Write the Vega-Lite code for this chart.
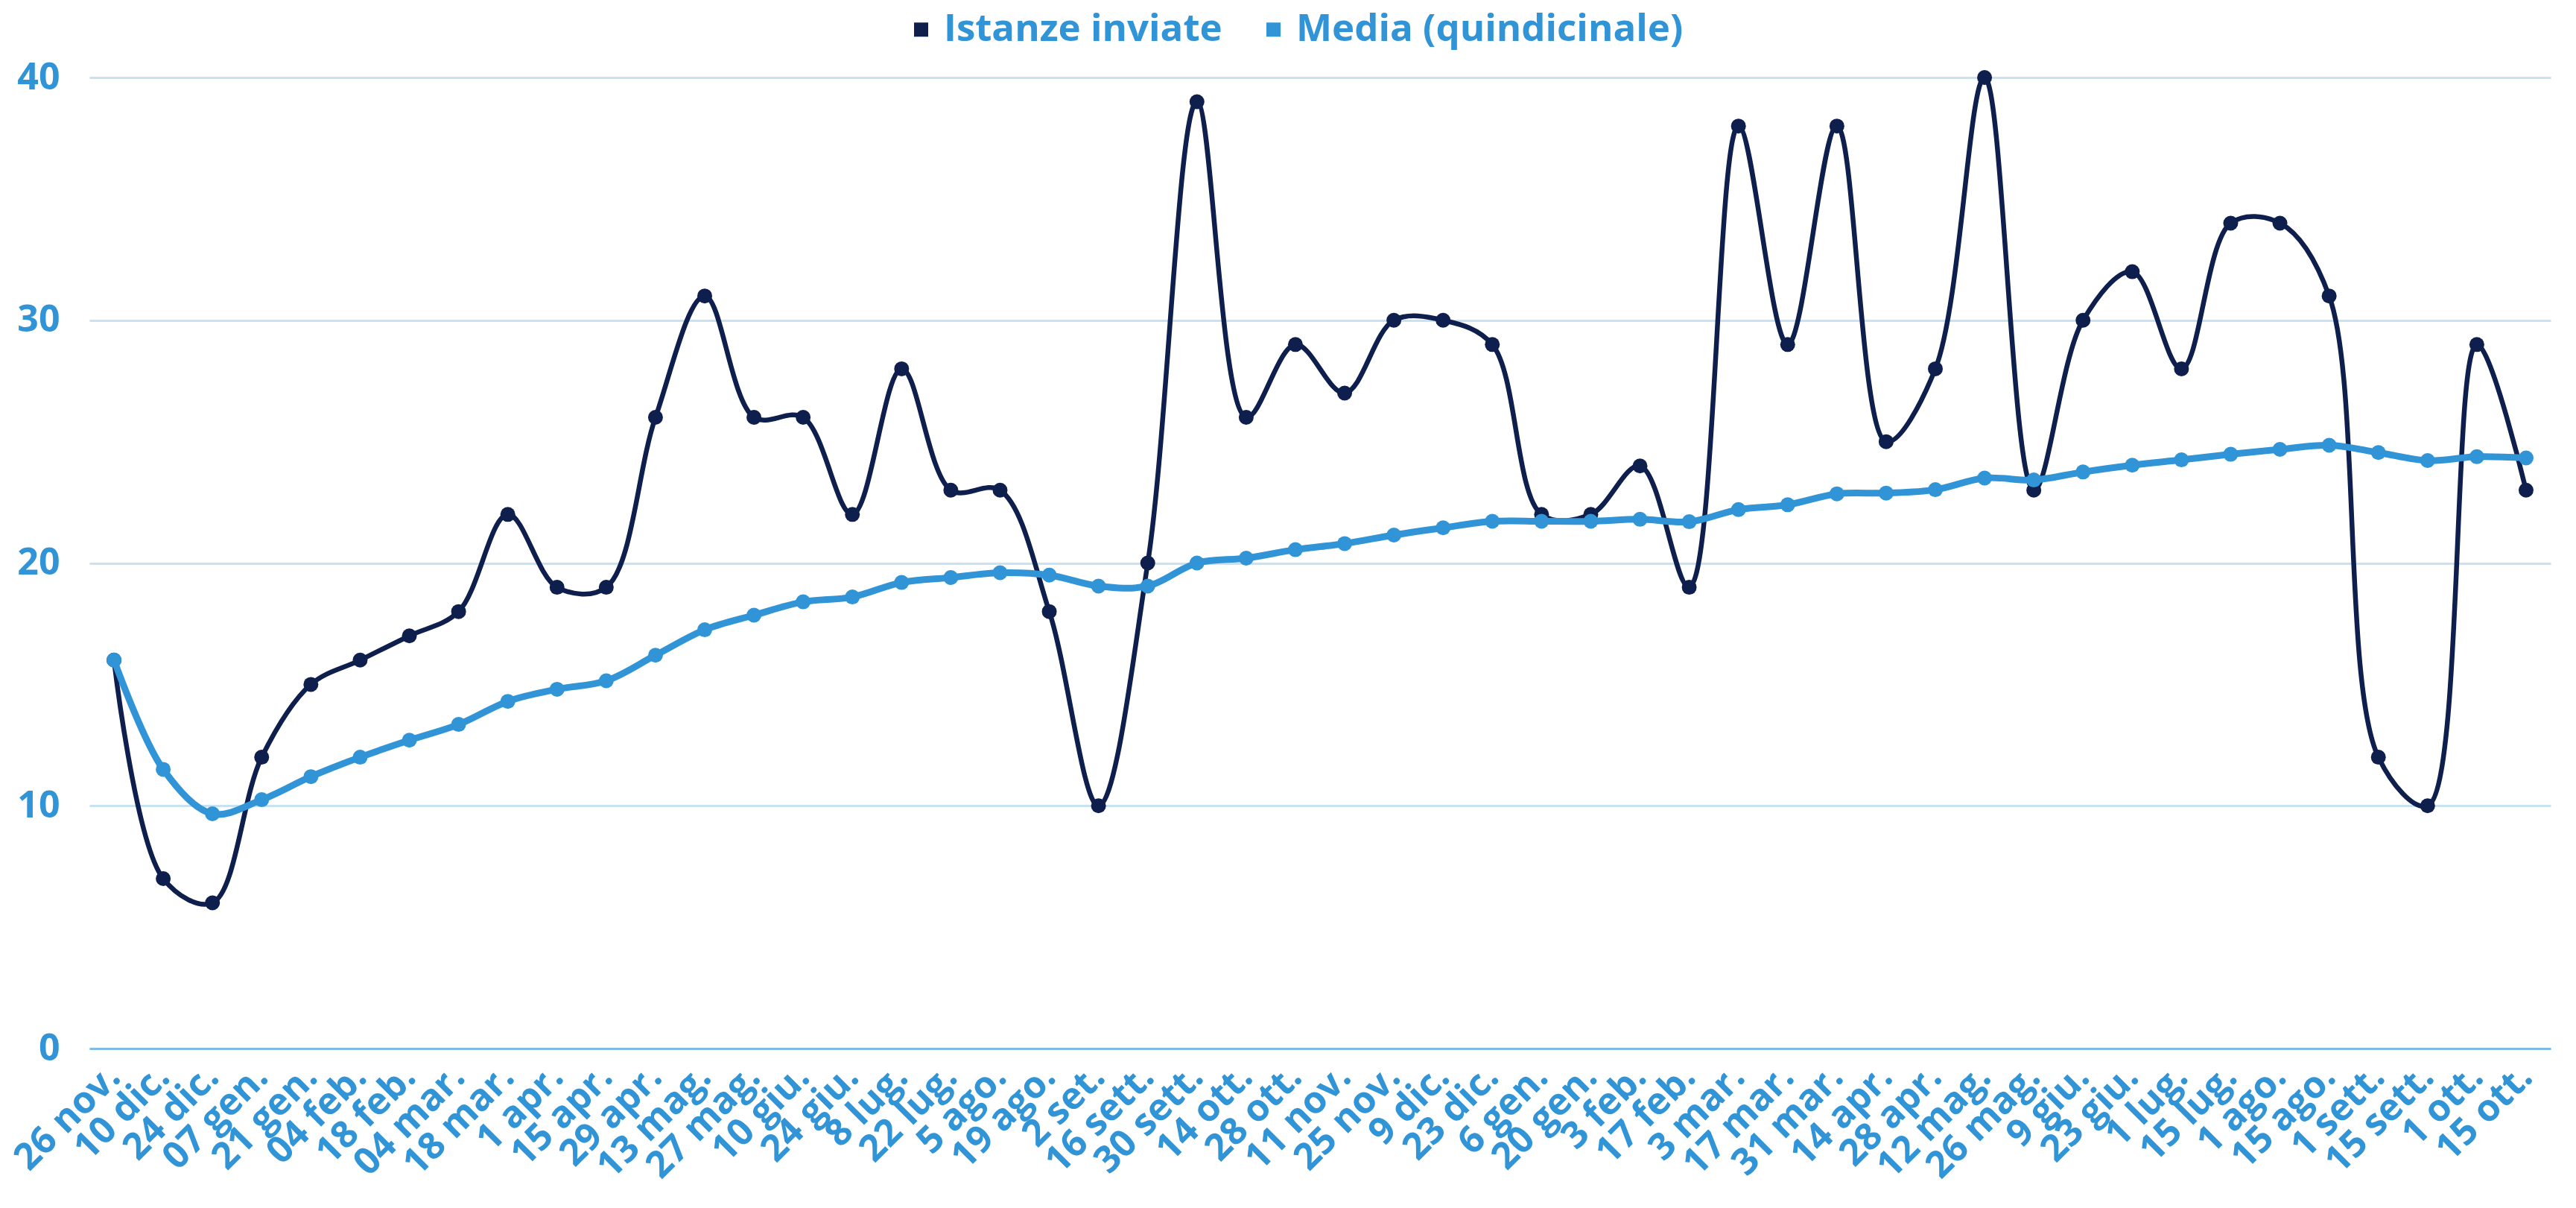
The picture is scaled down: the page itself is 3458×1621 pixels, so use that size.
{
  "$schema": "https://vega.github.io/schema/vega-lite/v6.json",
  "autosize": {"type": "none"},
  "padding": {"left": 120, "top": 104, "right": 34, "bottom": 214},
  "width": 3304,
  "height": 1303,
  "background": "#ffffff",
  "config": {
    "view": {"stroke": null},
    "font": "Open Sans",
    "axis": {"labelFont": "Open Sans", "labelFontWeight": "bold", "labelFontSize": 50, "labelColor": "#3094d7", "ticks": false, "title": null, "labelLimit": 0},
    "legend": {"labelFont": "Open Sans", "labelFontWeight": "bold", "labelFontSize": 51, "labelColor": "#3094d7", "labelLimit": 0}
  },
  "data": {
    "values": [
      {"d": "26 nov.", "Istanze inviate": 16, "Media (quindicinale)": 16},
      {"d": "10 dic.", "Istanze inviate": 7, "Media (quindicinale)": 11.5},
      {"d": "24 dic.", "Istanze inviate": 6, "Media (quindicinale)": 9.67},
      {"d": "07 gen.", "Istanze inviate": 12, "Media (quindicinale)": 10.25},
      {"d": "21 gen.", "Istanze inviate": 15, "Media (quindicinale)": 11.2},
      {"d": "04 feb.", "Istanze inviate": 16, "Media (quindicinale)": 12.0},
      {"d": "18 feb.", "Istanze inviate": 17, "Media (quindicinale)": 12.7},
      {"d": "04 mar.", "Istanze inviate": 18, "Media (quindicinale)": 13.35},
      {"d": "18 mar.", "Istanze inviate": 22, "Media (quindicinale)": 14.3},
      {"d": "1 apr.", "Istanze inviate": 19, "Media (quindicinale)": 14.8},
      {"d": "15 apr.", "Istanze inviate": 19, "Media (quindicinale)": 15.15},
      {"d": "29 apr.", "Istanze inviate": 26, "Media (quindicinale)": 16.2},
      {"d": "13 mag.", "Istanze inviate": 31, "Media (quindicinale)": 17.25},
      {"d": "27 mag.", "Istanze inviate": 26, "Media (quindicinale)": 17.85},
      {"d": "10 giu.", "Istanze inviate": 26, "Media (quindicinale)": 18.4},
      {"d": "24 giu.", "Istanze inviate": 22, "Media (quindicinale)": 18.6},
      {"d": "8 lug.", "Istanze inviate": 28, "Media (quindicinale)": 19.2},
      {"d": "22 lug.", "Istanze inviate": 23, "Media (quindicinale)": 19.4},
      {"d": "5 ago.", "Istanze inviate": 23, "Media (quindicinale)": 19.6},
      {"d": "19 ago.", "Istanze inviate": 18, "Media (quindicinale)": 19.5},
      {"d": "2 set.", "Istanze inviate": 10, "Media (quindicinale)": 19.05},
      {"d": "16 sett.", "Istanze inviate": 20, "Media (quindicinale)": 19.05},
      {"d": "30 sett.", "Istanze inviate": 39, "Media (quindicinale)": 20.0},
      {"d": "14 ott.", "Istanze inviate": 26, "Media (quindicinale)": 20.2},
      {"d": "28 ott.", "Istanze inviate": 29, "Media (quindicinale)": 20.55},
      {"d": "11 nov.", "Istanze inviate": 27, "Media (quindicinale)": 20.8},
      {"d": "25 nov.", "Istanze inviate": 30, "Media (quindicinale)": 21.15},
      {"d": "9 dic.", "Istanze inviate": 30, "Media (quindicinale)": 21.45},
      {"d": "23 dic.", "Istanze inviate": 29, "Media (quindicinale)": 21.72},
      {"d": "6 gen.", "Istanze inviate": 22, "Media (quindicinale)": 21.72},
      {"d": "20 gen.", "Istanze inviate": 22, "Media (quindicinale)": 21.72},
      {"d": "3 feb.", "Istanze inviate": 24, "Media (quindicinale)": 21.8},
      {"d": "17 feb.", "Istanze inviate": 19, "Media (quindicinale)": 21.7},
      {"d": "3 mar.", "Istanze inviate": 38, "Media (quindicinale)": 22.2},
      {"d": "17 mar.", "Istanze inviate": 29, "Media (quindicinale)": 22.4},
      {"d": "31 mar.", "Istanze inviate": 38, "Media (quindicinale)": 22.85},
      {"d": "14 apr.", "Istanze inviate": 25, "Media (quindicinale)": 22.88},
      {"d": "28 apr.", "Istanze inviate": 28, "Media (quindicinale)": 23.02},
      {"d": "12 mag.", "Istanze inviate": 40, "Media (quindicinale)": 23.5},
      {"d": "26 mag.", "Istanze inviate": 23, "Media (quindicinale)": 23.42},
      {"d": "9 giu.", "Istanze inviate": 30, "Media (quindicinale)": 23.75},
      {"d": "23 giu.", "Istanze inviate": 32, "Media (quindicinale)": 24.03},
      {"d": "1 lug.", "Istanze inviate": 28, "Media (quindicinale)": 24.25},
      {"d": "15 lug.", "Istanze inviate": 34, "Media (quindicinale)": 24.48},
      {"d": "1 ago.", "Istanze inviate": 34, "Media (quindicinale)": 24.68},
      {"d": "15 ago.", "Istanze inviate": 31, "Media (quindicinale)": 24.85},
      {"d": "1 sett.", "Istanze inviate": 12, "Media (quindicinale)": 24.55},
      {"d": "15 sett.", "Istanze inviate": 10, "Media (quindicinale)": 24.22},
      {"d": "1 ott.", "Istanze inviate": 29, "Media (quindicinale)": 24.38},
      {"d": "15 ott.", "Istanze inviate": 23, "Media (quindicinale)": 24.33}
    ]
  },
  "transform": [
    {"fold": ["Istanze inviate", "Media (quindicinale)"], "as": ["serie", "valore"]}
  ],
  "encoding": {
    "x": {
      "field": "d", "type": "ordinal", "sort": null,
      "scale": {"type": "point", "padding": 0.5},
      "axis": {"labelAngle": -45, "labelAlign": "right", "labelBaseline": "middle", "labelPadding": 30, "domain": true, "domainColor": "#7fbbe6", "domainWidth": 3, "grid": false, "zindex": 1}
    },
    "y": {
      "field": "valore", "type": "quantitative",
      "scale": {"domain": [0, 40], "nice": false},
      "axis": {"values": [0, 10, 20, 30, 40], "domain": false, "grid": true, "gridColor": "#c9e2f3", "gridWidth": 3, "labelPadding": 40}
    },
    "color": {
      "field": "serie", "type": "nominal",
      "scale": {"domain": ["Istanze inviate", "Media (quindicinale)"], "range": ["#0e1f4d", "#3094d7"]},
      "legend": {"title": null, "orient": "none", "direction": "horizontal", "legendX": 1091, "legendY": -90, "symbolType": "square", "symbolSize": 361, "symbolStrokeWidth": 0, "columnPadding": 43, "labelOffset": 5, "padding": 0}
    }
  },
  "layer": [
    {"transform": [{"filter": "datum.serie == 'Istanze inviate'"}], "mark": {"type": "line", "interpolate": "catmull-rom", "strokeWidth": 6.5}},
    {"transform": [{"filter": "datum.serie == 'Istanze inviate'"}], "mark": {"type": "point", "filled": true, "opacity": 1, "size": 400}},
    {"transform": [{"filter": "datum.serie != 'Istanze inviate'"}], "mark": {"type": "line", "interpolate": "catmull-rom", "strokeWidth": 9}},
    {"transform": [{"filter": "datum.serie != 'Istanze inviate'"}], "mark": {"type": "point", "filled": true, "opacity": 1, "size": 400}}
  ]
}
